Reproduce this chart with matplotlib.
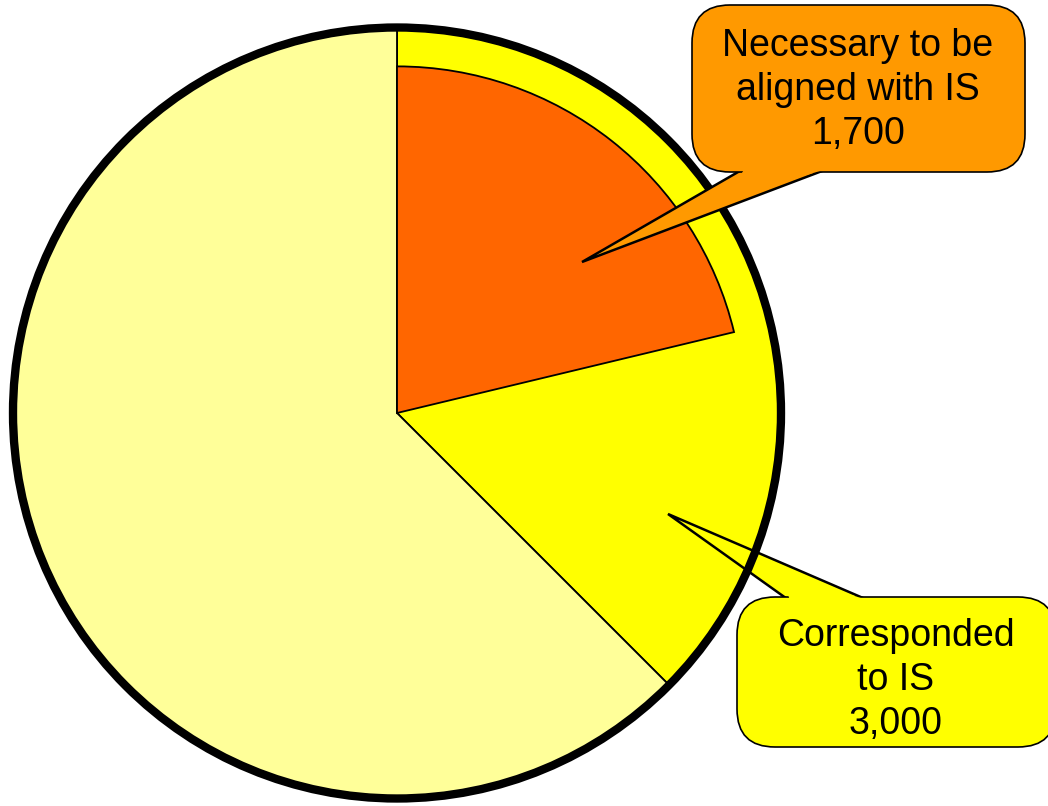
import matplotlib.pyplot as plt
from matplotlib.patches import Ellipse, FancyBboxPatch, Polygon

# Pie data: share corresponded to IS vs the rest, and the part to be aligned
slice_values = [3000, 5000]
slice_colors = ['#FFFF00', '#FFFF99']
aligned_value = 1700
aligned_color = '#FF6600'

# Callout texts and colours
callout_texts = ['Necessary to be\naligned with IS\n1,700', 'Corresponded\nto IS\n3,000']
callout_colors = ['#FF9900', '#FFFF00']

W, H = 1048, 806
fig = plt.figure(figsize=(W / 100, H / 100), dpi=100)
ax = fig.add_axes([0, 0, 1, 1])

# pixel helper (top-left origin -> data)
def px(x, y):
    return (x, H - y)

cx, cy = px(397, 413)
r = 383

# outer pie
ax.pie(slice_values, colors=slice_colors, startangle=90, counterclock=False,
       center=(cx, cy), radius=r, frame=True,
       wedgeprops=dict(edgecolor='black', linewidth=1.3))

# inner orange wedge (subset of the 3,000 slice)
wedges, _ = ax.pie([aligned_value, sum(slice_values) - aligned_value],
                   colors=[aligned_color, 'none'], startangle=90, counterclock=False,
                   center=(cx, cy), radius=r * 0.905, frame=True,
                   wedgeprops=dict(edgecolor='black', linewidth=1.3))
wedges[1].set_visible(False)

# thick outline
ax.add_patch(Ellipse((cx, cy), 2 * r + 2, 2 * r + 5, fill=False, edgecolor='black',
                     linewidth=6, zorder=3))


def callout(box, base, tip, text, color, tri_z, text_xy):
    x0, y0, x1, y1 = box
    (bx0, by), (bx1, _) = base
    inset = 4 if by > y0 + 50 else -4
    # pointer
    p_base = [px(bx0, by - inset), px(bx1, by - inset)]
    ax.add_patch(Polygon(p_base + [px(*tip)], closed=True, facecolor=color,
                         edgecolor='black', linewidth=1.8, zorder=tri_z))
    # rounded box
    ax.add_patch(FancyBboxPatch(px(x0, y1), x1 - x0, y1 - y0,
                                boxstyle='round,pad=0,rounding_size=38',
                                facecolor=color, edgecolor='black',
                                linewidth=1.2, zorder=5))
    # hide box edge where the pointer joins
    mx, my = (bx0 + bx1) / 2, by
    jx, jy = mx + 0.3 * (tip[0] - mx), my + 0.3 * (tip[1] - my)
    ax.add_patch(Polygon(p_base + [px(jx, jy)], closed=True, facecolor=color,
                         edgecolor='none', zorder=6))
    ax.text(*px(*text_xy), text, ha='center', va='center', fontsize=27,
            family='Liberation Sans', linespacing=1.3, zorder=7)


callout((692, 5, 1025, 172), [(745, 172), (830, 172)], (582, 262),
        callout_texts[0], callout_colors[0], 4, (858, 90))
callout((737, 597, 1056, 747), [(790, 597), (870, 597)], (668, 514),
        callout_texts[1], callout_colors[1], 2, (896, 680))

ax.set_xlim(0, W)
ax.set_ylim(0, H)
ax.axis('off')

fig.savefig('out.png', dpi=100)
